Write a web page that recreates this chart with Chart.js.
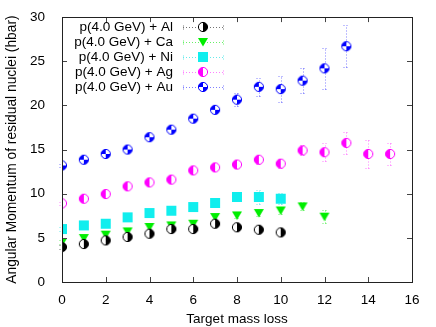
<!DOCTYPE html>
<html>
<head>
<meta charset="utf-8">
<script src="https://cdn.jsdelivr.net/npm/chart.js@4.4.0/dist/chart.umd.min.js"></script>
<style>
html,body{margin:0;padding:0;background:#fff;}
canvas{display:block;}
</style>
</head>
<body>
<canvas id="grafica" width="436" height="327"></canvas>
<script>
// perdida de masa del blanco (eje x)
const masaPerdida = [0,1,2,3,4,5,6,7,8,9,10,11,12,13,14,15];
const xTicks = [0,2,4,6,8,10,12,14,16];
const yTicks = [0,5,10,15,20,25,30];

// momento angular (hbar) por blanco
const momAl = [3.96,4.3,4.71,5.1,5.47,6.0,6.0,6.6,6.2,5.92,5.62];
const errAl = [0.2,0.2,0.2,0.2,0.2,0.2,0.2,0.25,0.25,0.3,0.3];
const momCa = [4.5,4.98,5.36,5.73,6.23,6.41,6.6,7.36,7.54,7.81,8.1,8.56,7.4];
const errCa = [0.2,0.2,0.2,0.2,0.2,0.2,0.25,0.25,0.3,0.35,0.4,0.45,0.72];
const momNi = [6.0,6.41,6.6,7.32,7.81,8.07,8.49,8.95,9.63,9.63,9.43];
const errNi = [0.2,0.2,0.2,0.2,0.25,0.25,0.3,0.35,0.5,0.75,0.65];
const momAg = [8.9,9.43,9.96,10.83,11.28,11.6,12.64,12.98,13.3,13.85,13.4,14.9,14.7,15.75,14.5,14.5];
const errAg = [0.2,0.2,0.2,0.25,0.25,0.3,0.3,0.35,0.4,0.45,0.5,0.57,1.0,1.25,1.55,1.27];
const momAu = [13.2,13.85,14.5,15.0,16.4,17.25,18.5,19.5,20.65,22.1,21.85,22.8,24.2,26.7];
const errAu = [0.2,0.2,0.2,0.25,0.3,0.3,0.35,0.4,0.7,1.0,1.45,1.4,2.35,2.4];

const etiquetas = ['p(4.0 GeV) + Al','p(4.0 GeV) + Ca','p(4.0 GeV) + Ni','p(4.0 GeV) + Ag','p(4.0 GeV) + Au'];

function marcador(tipo, color){
    const c = document.createElement('canvas');
    c.width = 12; c.height = 12;
    const g = c.getContext('2d');
    const r = 4.6, cx = 6, cy = 6;
    g.lineWidth = 1;
    if (tipo === 'triangulo'){
        g.fillStyle = color;
        g.beginPath(); g.moveTo(1,2); g.lineTo(11,2); g.lineTo(6,10.5); g.closePath(); g.fill();
    } else if (tipo === 'cuadrado'){
        g.fillStyle = color;
        g.fillRect(1,1,10,10);
    } else {
        g.fillStyle = '#fff';
        g.beginPath(); g.arc(cx,cy,r,0,Math.PI*2); g.fill();
        g.fillStyle = color;
        if (tipo === 'mitadDer'){
            g.beginPath(); g.moveTo(cx,cy); g.arc(cx,cy,r,-Math.PI/2,Math.PI/2); g.closePath(); g.fill();
        } else if (tipo === 'mitadIzq'){
            g.beginPath(); g.moveTo(cx,cy); g.arc(cx,cy,r,Math.PI/2,Math.PI*1.5); g.closePath(); g.fill();
        } else {
            g.beginPath(); g.moveTo(cx,cy); g.arc(cx,cy,r,Math.PI,Math.PI*1.5); g.closePath(); g.fill();
            g.beginPath(); g.moveTo(cx,cy); g.arc(cx,cy,r,0,Math.PI/2); g.closePath(); g.fill();
        }
        g.strokeStyle = color;
        g.beginPath(); g.arc(cx,cy,r,0,Math.PI*2); g.stroke();
    }
    return c;
}

function serie(i, valores, errores, color, colorError, tipo){
    return {
        label: etiquetas[i],
        data: valores.map((v,k)=>({x: masaPerdida[k], y: v})),
        errores: errores,
        colorError: colorError,
        borderColor: color,
        backgroundColor: color,
        pointStyle: marcador(tipo, color),
        pointRadius: 5,
        pointHoverRadius: 5
    };
}

const datasets = [
    serie(0, momAl, errAl, '#000000', 'rgba(0,0,0,0.55)', 'mitadDer'),
    serie(1, momCa, errCa, '#00ee00', 'rgba(0,230,0,0.6)', 'triangulo'),
    serie(2, momNi, errNi, '#11eeee', 'rgba(0,220,220,0.6)', 'cuadrado'),
    serie(3, momAg, errAg, '#ff00ff', 'rgba(255,0,255,0.5)', 'mitadIzq'),
    serie(4, momAu, errAu, '#0000ff', 'rgba(0,0,255,0.5)', 'cuartos')
];

// barras de error punteadas
const barrasError = {
    id: 'barrasError',
    beforeDatasetsDraw(chart){
        const ctx = chart.ctx, xs = chart.scales.x, ys = chart.scales.y;
        chart.data.datasets.forEach(ds=>{
            ctx.save();
            ctx.strokeStyle = ds.colorError;
            ctx.lineWidth = 1;
            ctx.setLineDash([1,2]);
            ds.data.forEach((p,k)=>{
                const e = ds.errores[k];
                const px = Math.round(xs.getPixelForValue(p.x)) + 0.5;
                const y1 = Math.round(ys.getPixelForValue(p.y - e)) + 0.5, y2 = Math.round(ys.getPixelForValue(p.y + e)) + 0.5;
                ctx.beginPath();
                ctx.moveTo(px,y1); ctx.lineTo(px,y2);
                ctx.moveTo(px-3,y1); ctx.lineTo(px+3,y1);
                ctx.moveTo(px-3,y2); ctx.lineTo(px+3,y2);
                ctx.stroke();
            });
            ctx.restore();
        });
    }
};

// borde y marcas hacia adentro, estilo gnuplot
const marco = {
    id: 'marco',
    afterDraw(chart){
        const ctx = chart.ctx, a = chart.chartArea, xs = chart.scales.x, ys = chart.scales.y;
        ctx.save();
        ctx.strokeStyle = '#444';
        ctx.lineWidth = 1;
        ctx.beginPath();
        xTicks.forEach(t=>{
            const px = Math.round(xs.getPixelForValue(t)) + 0.5;
            ctx.moveTo(px,a.bottom); ctx.lineTo(px,a.bottom-5);
            ctx.moveTo(px,a.top); ctx.lineTo(px,a.top+5);
        });
        yTicks.forEach(t=>{
            const py = Math.round(ys.getPixelForValue(t)) + 0.5;
            ctx.moveTo(a.left,py); ctx.lineTo(a.left+5,py);
            ctx.moveTo(a.right,py); ctx.lineTo(a.right-5,py);
        });
        ctx.stroke();
        ctx.strokeStyle = '#222';
        ctx.strokeRect(Math.round(a.left)+0.5, Math.round(a.top)+0.5, Math.round(a.right-a.left), Math.round(a.bottom-a.top));
        ctx.restore();
    }
};

// leyenda dentro del area, texto a la izquierda y muestra a la derecha
const leyenda = {
    id: 'leyenda',
    afterDraw(chart){
        const ctx = chart.ctx;
        ctx.save();
        ctx.font = '13.5px "Liberation Sans", Arial, sans-serif';
        ctx.textAlign = 'right';
        ctx.textBaseline = 'middle';
        chart.data.datasets.forEach((ds,i)=>{
            const y = 26.5 + i*15;
            ctx.fillStyle = '#000';
            ctx.fillText(ds.label, 173, y + 0.5);
            ctx.strokeStyle = ds.colorError;
            ctx.lineWidth = 1;
            ctx.setLineDash([1,2]);
            const yy = Math.round(y)+0.5;
            ctx.beginPath();
            ctx.moveTo(183,yy); ctx.lineTo(224,yy);
            ctx.moveTo(183.5,yy-2); ctx.lineTo(183.5,yy+2);
            ctx.moveTo(223.5,yy-2); ctx.lineTo(223.5,yy+2);
            ctx.stroke();
            ctx.setLineDash([]);
            ctx.drawImage(ds.pointStyle, 203-6, Math.round(y)-6);
        });
        ctx.restore();
    }
};

Chart.defaults.font.family = '"Liberation Sans", Arial, sans-serif';
Chart.defaults.color = '#000';

new Chart(document.getElementById('grafica'), {
    type: 'scatter',
    data: { datasets: datasets },
    options: {
        responsive: false,
        animation: false,
        devicePixelRatio: 1,
        layout: { padding: { top: 17, right: 24, left: 0, bottom: 0 } },
        plugins: { legend: { display: false }, tooltip: { enabled: false } },
        scales: {
            x: {
                type: 'linear', min: 0, max: 16,
                afterFit: s => { s.height = 45; },
                afterBuildTicks: s => { s.ticks = xTicks.map(v=>({value:v})); },
                grid: { display: false },
                border: { display: false },
                ticks: { font: { size: 13.5 }, padding: 2, maxRotation: 0 },
                title: { display: true, text: 'Target mass loss', font: { size: 13.5 }, padding: { top: 0, bottom: 0 } }
            },
            y: {
                type: 'linear', min: 0, max: 30,
                afterFit: s => { s.width = 62; },
                afterBuildTicks: s => { s.ticks = yTicks.map(v=>({value:v})); },
                grid: { display: false },
                border: { display: false },
                ticks: { font: { size: 13.5 }, padding: 9 },
                title: { display: true, text: 'Angular Momentum of residual nuclei (hbar)', font: { size: 13.8 }, padding: { top: 4, bottom: 0 } }
            }
        }
    },
    plugins: [barrasError, marco, leyenda]
});
</script>
</body>
</html>
